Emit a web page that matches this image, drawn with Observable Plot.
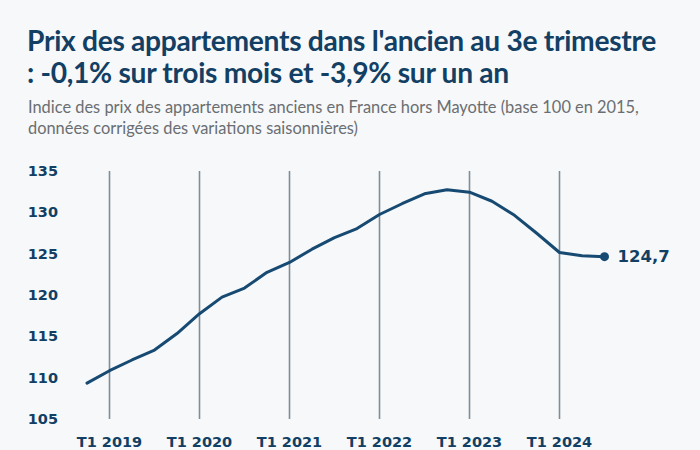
<!DOCTYPE html>
<html>
<head>
<meta charset="utf-8">
<script src="https://cdn.jsdelivr.net/npm/d3@7"></script>
<script src="https://cdn.jsdelivr.net/npm/@observablehq/plot@0.6"></script>
<style>
  html, body { margin: 0; padding: 0; background: #f7f8f9; }
  #wrap { width: 700px; height: 450px; position: relative; overflow: hidden; background: #f7f8f9; }
  #title { position: absolute; left: 27px; top: 24px; width: 690px; white-space: nowrap; font-family: Lato, sans-serif; font-weight: 700; font-size: 28.2px; line-height: 32px; color: #123f63; letter-spacing: -0.3px; }
  #subtitle { position: absolute; left: 28px; top: 96px; width: 690px; white-space: nowrap; font-family: Lato, sans-serif; font-weight: 400; font-size: 16.4px; line-height: 21px; color: #6a6e72; }
  #chart { position: absolute; left: 0; top: 150px; }
</style>
</head>
<body>
<div id="wrap">
  <div id="title">Prix des appartements dans l'ancien au 3e trimestre<br>: -0,1% sur trois mois et -3,9% sur un an</div>
  <div id="subtitle">Indice des prix des appartements anciens en France hors Mayotte (base 100 en 2015,<br>données corrigées des variations saisonnières)</div>
  <div id="chart"></div>
</div>
<script>
// Quarterly periods (T = trimestre)
const periods = [
  "T4 2018",
  "T1 2019", "T2 2019", "T3 2019", "T4 2019",
  "T1 2020", "T2 2020", "T3 2020", "T4 2020",
  "T1 2021", "T2 2021", "T3 2021", "T4 2021",
  "T1 2022", "T2 2022", "T3 2022", "T4 2022",
  "T1 2023", "T2 2023", "T3 2023", "T4 2023",
  "T1 2024", "T2 2024", "T3 2024"
];
const indexValues = [
  109.4,
  110.9, 112.2, 113.4, 115.4,
  117.8, 119.8, 120.9, 122.8,
  124.0, 125.6, 127.0, 128.1,
  129.8, 131.1, 132.3, 132.8,
  132.5, 131.4, 129.7, 127.5,
  125.2, 124.8, 124.7
];
const xTickLabels = ["T1 2019", "T1 2020", "T1 2021", "T1 2022", "T1 2023", "T1 2024"];
const yTicks = [105, 110, 115, 120, 125, 130, 135];
const lastLabel = "124,7";

const toNum = p => { const [q, y] = p.split(" "); return +y + (+q.slice(1) - 1) / 4; };
const data = periods.map((p, i) => ({ t: toNum(p), v: indexValues[i] }));
const last = data[data.length - 1];
const ticksX = xTickLabels.map(toNum);
const labelOf = new Map(xTickLabels.map(l => [toNum(l), l]));

const dark = "#123f63";
const lineColor = "#174a72";

const chart = Plot.plot({
  width: 700,
  height: 300,
  marginLeft: 86.5,
  marginRight: 96,
  marginTop: 21,
  marginBottom: 31,
  style: { background: "transparent", fontFamily: "'DejaVu Sans', sans-serif" },
  x: { domain: [data[0].t, last.t] },
  y: { domain: [105, 135] },
  marks: [
    Plot.ruleX(ticksX, { y1: 105, y2: 135, stroke: "#7f8d9a", strokeWidth: 1.6 }),
    Plot.axisY(yTicks, { tickSize: 0, tickPadding: 29, fontSize: 14.5, fontWeight: "bold", fill: dark, label: null }),
    Plot.axisX(ticksX, { tickSize: 0, tickPadding: 17, fontSize: 14.5, fontWeight: "bold", fill: dark, label: null, tickFormat: d => labelOf.get(d) }),
    Plot.line(data, { x: "t", y: "v", stroke: lineColor, strokeWidth: 3, strokeLinejoin: "round" }),
    Plot.dot([last], { x: "t", y: "v", r: 4.5, fill: lineColor }),
    Plot.text([last], { x: "t", y: "v", text: () => lastLabel, dx: 13, textAnchor: "start", fontSize: 16.5, fontWeight: "bold", fill: dark })
  ]
});
document.getElementById("chart").appendChild(chart);
</script>
</body>
</html>
